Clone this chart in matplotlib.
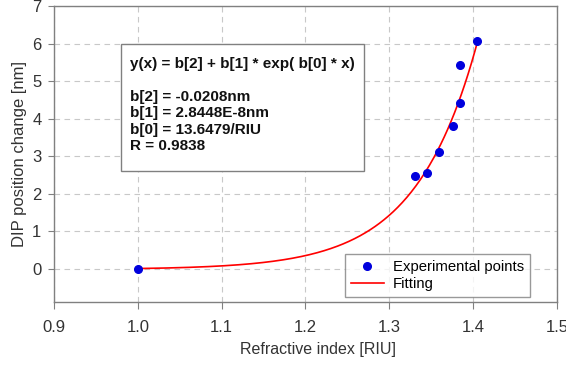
import numpy as np
import matplotlib.pyplot as plt
from matplotlib.patches import Rectangle

# Experimental points
ri = [1.0, 1.3312, 1.3447, 1.3598, 1.3758, 1.3841, 1.3845, 1.4048]
dip_shift = [0.0, 2.46, 2.56, 3.12, 3.80, 4.42, 5.43, 6.07]

# Fit parameters from the text box
b0 = 13.6479
b1 = 2.8448e-8
b2 = -0.0208
r_value = 0.9838

xticks = [0.9, 1.0, 1.1, 1.2, 1.3, 1.4, 1.5]
yticks = [0, 1, 2, 3, 4, 5, 6, 7]

plt.rcParams['font.family'] = ['Liberation Sans', 'DejaVu Sans']

fig = plt.figure(figsize=(5.66, 3.67), dpi=100)
ax = fig.add_axes([0.0954, 0.178, 0.8886, 0.8057])

x_fit = np.linspace(ri[0], ri[-1], 300)
y_fit = b2 + b1 * np.exp(b0 * x_fit)

ax.plot(ri, dip_shift, 'o', color='#0000dd', markersize=5.5, label='Experimental points', zorder=3)
ax.plot(x_fit, y_fit, color='red', linewidth=1.2, label='Fitting', zorder=2)

ax.set_xlim(0.9, 1.5)
ax.set_ylim(-0.88, 7)
ax.set_xticks(xticks)
ax.set_xticklabels(['%.1f' % t for t in xticks])
ax.set_yticks(yticks)
ax.tick_params(direction='out', length=4, color='#808080', labelcolor='#333333', labelsize=12)
ax.tick_params(axis='x', length=5, pad=8)
ax.tick_params(axis='y', pad=5)
ax.grid(True, color='#c8c8c8', linestyle=(0, (5, 4)), linewidth=0.8)
ax.set_axisbelow(True)
for s in ax.spines.values():
    s.set_color('#808080')
    s.set_linewidth(1.0)

ax.set_xlabel('Refractive index [RIU]', fontsize=11.5, color='#333333', labelpad=5.5)
ax.xaxis.set_label_coords(0.525, -0.135)
ax.set_ylabel('DIP position change [nm]', fontsize=12, color='#333333', labelpad=4)

# fit summary box
ax.add_patch(Rectangle((0.133, 0.443), 0.483, 0.429, transform=ax.transAxes,
                       facecolor='white', edgecolor='#808080', linewidth=1.0, zorder=4))
box_text = ('y(x) = b[2] + b[1] * exp( b[0] * x)\n\n'
            'b[2] = %.4fnm\n'
            'b[1] = 2.8448E-8nm\n'
            'b[0] = %.4f/RIU\n'
            'R = %.4f' % (b2, b0, r_value))
ax.text(0.151, 0.829, box_text, transform=ax.transAxes, fontsize=11,
        fontweight='bold', va='top', ha='left', linespacing=1.23, color='#111111', zorder=5)

leg = ax.legend(loc='lower right', bbox_to_anchor=(0.946, 0.016), fontsize=10.7,
                frameon=True, fancybox=False, edgecolor='#808080', handlelength=2.2,
                borderpad=0.4, labelspacing=0.2, handletextpad=0.6, borderaxespad=0)
leg.get_frame().set_linewidth(1.0)

fig.savefig('out.png', dpi=100)
